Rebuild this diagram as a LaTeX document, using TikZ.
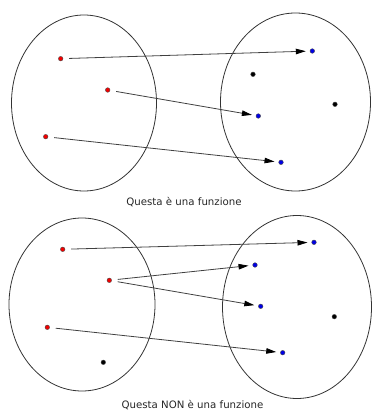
\documentclass[tikz,border=0pt]{standalone}
\usepackage{fontspec}
\setmainfont{DejaVu Sans}
\usetikzlibrary{arrows.meta}
\begin{document}
\begin{tikzpicture}[x=1pt,y=-1pt,
  setline/.style={draw=black!80,line width=0.8pt},
  dotbase/.style={circle,inner sep=0pt,minimum size=4.6pt,draw=black!70,line width=0.4pt},
  reddot/.style={dotbase,fill=red!95!black},
  bluedot/.style={dotbase,fill=blue!90!black},
  blackdot/.style={dotbase,fill=black},
  maparrow/.style={draw=black!75,line width=0.8pt,-{Triangle[length=10pt,width=5.5pt,color=black]},shorten <=6pt,shorten >=4pt},
  caption/.style={font=\fontsize{10.2}{12}\selectfont,text=black!85,inner sep=0pt}]
\useasboundingbox (0,0) rectangle (371,411);
% top
\draw[setline] (84,103) ellipse [x radius=72.5,y radius=88];
\draw[setline] (295.5,102) ellipse [x radius=75,y radius=89];
\node[reddot] (a1) at (60.7,58.7) {};
\node[reddot] (a2) at (107.7,90) {};
\node[reddot] (a3) at (45.7,136.7) {};
\node[bluedot] (b1) at (312.3,51) {};
\node[bluedot] (b2) at (258.3,116) {};
\node[bluedot] (b3) at (281,162.3) {};
\node[blackdot] (k1) at (253,74.3) {};
\node[blackdot] (k2) at (335,104.3) {};
\draw[maparrow] (a1) -- (b1);
\draw[maparrow] (a2) -- (b2);
\draw[maparrow] (a3) -- (b3);
\node[caption] (t1) at (184,202) {Questa è una funzione};
% bottom
\draw[setline] (82,304.5) ellipse [x radius=73,y radius=86.5];
\draw[setline] (297,307) ellipse [x radius=74.5,y radius=91.5];
\node[reddot] (c1) at (62.7,249.3) {};
\node[reddot] (c2) at (109.3,280.3) {};
\node[reddot] (c3) at (47.3,327.3) {};
\node[blackdot] (k3) at (103.3,362.3) {};
\node[bluedot] (d1) at (314,242.3) {};
\node[bluedot] (d2) at (255,265) {};
\node[bluedot] (d3) at (260.7,306.3) {};
\node[bluedot] (d4) at (282.7,352.7) {};
\node[blackdot] (k4) at (334.3,316.7) {};
\draw[maparrow] (c1) -- (d1);
\draw[maparrow] (c2) -- (d2);
\draw[maparrow] (c2) -- (d3);
\draw[maparrow] (c3) -- (d4);
\node[caption] (t2) at (192.5,405) {Questa NON è una funzione};
\end{tikzpicture}
\end{document}
